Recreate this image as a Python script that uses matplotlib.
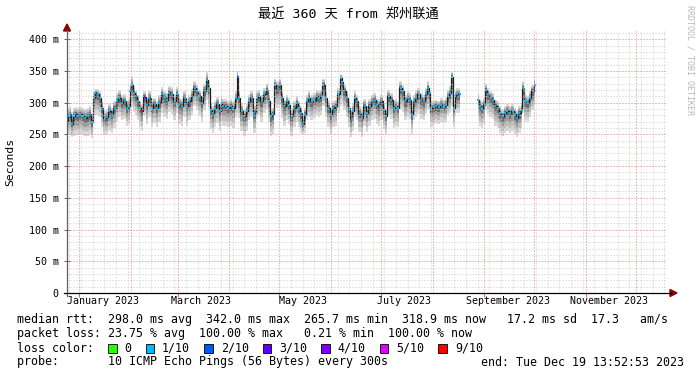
import datetime as dt
import numpy as np
import matplotlib
matplotlib.use("Agg")
import matplotlib.pyplot as plt
import matplotlib.dates as mdates
from matplotlib.patches import Rectangle, Polygon

MONO = ["DejaVu Sans Mono", "Noto Sans CJK SC"]
plt.rcParams["font.family"] = MONO

# --- data (days after start, ms) ---
start = dt.datetime(2022, 12, 24, 13, 52, 53)
end = dt.datetime(2023, 12, 19, 13, 52, 53)

days = [
    0, 1, 2, 3, 4, 5, 6.6, 8, 9.4, 11,
    12.6, 14, 15, 16, 17, 18.6, 20, 21, 22.6, 24,
    25.4, 27, 28.6, 30, 31.4, 33, 34.6, 36, 37, 38,
    39, 40, 41, 42.6, 44, 45, 46.6, 48, 49.4, 51,
    52.6, 54, 55.4, 57, 58.6, 60, 61.4, 63, 64.6, 66,
    67.4, 69, 70.6, 72, 73.4, 75, 76.6, 78, 79.4, 81,
    82.6, 84, 85, 86.4, 87.8, 88.8, 90.4, 91.8, 92.8, 93.8,
    95.2, 96.8, 98.4, 99.8, 101.2, 102.4, 103.2, 104.8, 106.4, 107.8,
    109.2, 110.8, 112.4, 113.8, 115.2, 116.8, 118.4, 119.8, 121.2, 122.4,
    123.8, 124.8, 126.4, 127.8, 129.2, 130.4, 131.8, 133.2, 134.8, 136.4,
    137.8, 139.2, 140.4, 141.2, 142.8, 143.8, 145.2, 146.8, 148.4, 149.8,
    151.2, 152.8, 153.8, 155.2, 156.8, 158.4, 159.8, 161.2, 162.8, 164.4,
    165.2, 166.4, 167.8, 169.2, 170.8, 171.8, 173.0, 174.2, 175.6, 177.0,
    178.6, 180.2, 181.6, 183.0, 184.6, 186.2, 187.6, 188.6, 190.2, 191.6,
    193.0, 194.6, 196.2, 197.6, 198.6, 200.2, 201.6, 203.0, 204.6, 205.6,
    207.0, 208.2, 209.6, 211.0, 212.6, 214.2, 215.6, 216.6, 217.6, 218.6,
    220.2, 221.6, 223.0, 224.6, 226.2, 227.6, 228.6, 229.6, 231.0, 232.2,
    233.0, 234.2, 235.6,
    241,
    246.6, 247.6, 249.0, 250.6, 251.6, 252.6, 254.2, 255.6, 257.0, 258.6,
    259.8, 261.4, 262.8, 264.2, 265.8, 267.4, 268.8, 270.2, 271.4, 272.8,
    273.8, 274.8, 275.8, 276.8, 277.8, 279.4, 280.8,
]

median = [
    271, 279, 282, 267, 279, 282, 279, 282, 279, 276,
    279, 282, 269, 308, 315, 313, 308, 292, 276, 277,
    287, 282, 292, 302, 308, 300, 302, 292, 295, 318,
    328, 315, 310, 302, 292, 287, 309, 297, 308, 292,
    298, 292, 300, 313, 308, 305, 315, 313, 302, 314,
    297, 295, 308, 295, 302, 310, 323, 318, 310, 300,
    318, 336, 323, 289, 283, 292, 298, 287, 300, 295,
    295, 292, 295, 292, 308, 341, 308, 287, 279, 287,
    302, 308, 284, 308, 310, 302, 313, 320, 302, 279,
    282, 328, 323, 328, 308, 295, 302, 297, 279, 292,
    300, 292, 284, 266, 282, 302, 308, 302, 305, 310,
    308, 310, 328, 308, 292, 282, 292, 295, 313, 339,
    333, 318, 308, 292, 276, 287, 308, 302, 284, 276,
    295, 284, 295, 302, 305, 297, 295, 302, 289, 279,
    310, 305, 292, 295, 292, 323, 318, 302, 308, 305,
    282, 302, 308, 313, 305, 302, 313, 323, 315, 292,
    293, 295, 293, 297, 295, 297, 310, 315, 341, 292,
    310, 313, 313,
    np.nan,
    305, 295, 292, 297, 320, 313, 308, 305, 295, 292,
    284, 279, 284, 287, 284, 287, 282, 276, 284, 289,
    323, 302, 302, 300, 308, 318, 328,
]

ping_lo = [
    249, 249, 250, 246, 248, 249, 249, 250, 249, 248,
    248, 250, 244, 279, 281, 281, 277, 262, 249, 250,
    256, 252, 260, 269, 277, 272, 274, 264, 266, 284,
    294, 286, 281, 272, 262, 256, 279, 266, 277, 262,
    268, 262, 270, 284, 278, 274, 286, 282, 272, 284,
    266, 264, 278, 264, 272, 280, 294, 288, 280, 270,
    288, 304, 292, 258, 252, 262, 268, 256, 270, 264,
    264, 262, 264, 260, 278, 282, 276, 256, 248, 256,
    272, 278, 252, 276, 280, 270, 284, 290, 270, 248,
    250, 296, 292, 296, 276, 264, 272, 266, 248, 262,
    270, 262, 252, 249, 252, 272, 278, 272, 276, 280,
    278, 280, 294, 278, 262, 250, 262, 264, 284, 294,
    300, 288, 278, 262, 246, 256, 278, 272, 254, 246,
    264, 254, 264, 272, 274, 266, 264, 272, 258, 250,
    280, 274, 260, 264, 262, 290, 286, 272, 278, 274,
    250, 272, 278, 282, 274, 272, 282, 290, 284, 262,
    266, 268, 266, 270, 268, 270, 280, 284, 294, 262,
    280, 284, 284,
    np.nan,
    276, 264, 260, 266, 288, 282, 277, 274, 264, 260,
    252, 248, 252, 256, 252, 256, 250, 246, 252, 258,
    284, 270, 272, 270, 278, 288, 298,
]

ping_hi = [
    290, 292, 294, 285, 292, 293, 292, 293, 292, 290,
    291, 294, 282, 318, 322, 321, 318, 302, 287, 288,
    298, 292, 302, 315, 320, 312, 313, 303, 306, 330,
    340, 326, 320, 312, 302, 298, 318, 307, 318, 302,
    308, 302, 312, 324, 318, 316, 326, 324, 312, 325,
    308, 306, 318, 305, 312, 321, 334, 328, 320, 310,
    330, 348, 334, 300, 294, 302, 309, 298, 311, 306,
    306, 303, 306, 303, 318, 350, 318, 298, 290, 298,
    312, 318, 295, 318, 320, 312, 323, 330, 312, 290,
    292, 338, 334, 338, 318, 305, 312, 307, 290, 302,
    310, 302, 294, 280, 292, 312, 318, 312, 315, 320,
    318, 320, 338, 318, 302, 292, 302, 305, 323, 345,
    343, 328, 318, 302, 288, 298, 318, 312, 295, 288,
    306, 295, 306, 312, 315, 307, 306, 312, 300, 290,
    320, 315, 302, 306, 302, 334, 328, 312, 318, 315,
    292, 312, 318, 323, 315, 312, 323, 334, 326, 302,
    303, 305, 303, 307, 305, 307, 320, 326, 348, 302,
    320, 323, 323,
    np.nan,
    316, 306, 302, 307, 330, 323, 318, 315, 305, 302,
    295, 290, 295, 298, 295, 298, 292, 288, 295, 300,
    334, 312, 312, 310, 318, 328, 336,
]

loss_names = ["0", "1/10", "2/10", "3/10", "4/10", "5/10", "9/10"]
loss_colors = ["#26ff00", "#00b8ff", "#0059ff", "#5e00ff", "#7e00ff", "#dd00ff", "#ff0000"]
odd_loss_days = [45, 46.6, 102.4]
odd_loss_level = ["9/10", "4/10", "2/10"]

title = "最近 360 天 from 郑州联通"
legend_rtt = ("median rtt:  298.0 ms avg  342.0 ms max  265.7 ms min"
              "  318.9 ms now   17.2 ms sd  17.3   am/s")
legend_loss = "packet loss: 23.75 % avg  100.00 % max   0.21 % min  100.00 % now"
probe_txt = "probe:       10 ICMP Echo Pings (56 Bytes) every 300s"
end_txt = "end: Tue Dec 19 13:52:53 2023"

# --- figure ---
W, H = 697, 375
fig = plt.figure(figsize=(W / 100, H / 100), dpi=100)
L, R, B, T = 67, 667, 293, 31
ax = fig.add_axes([L / W, 1 - B / H, (R - L) / W, (B - T) / H])

def fx(px):
    return px / W

def fy(py):
    return 1 - py / H

t0 = mdates.date2num(start)
t1 = mdates.date2num(end)
x = t0 + np.array(days, dtype=float)
med = np.array(median, dtype=float)
lo = np.array(ping_lo, dtype=float)
hi = np.array(ping_hi, dtype=float)

# split at the missing stretch so steps don't hang into the gap
gaps = np.where(np.isnan(med))[0]
bounds = [0] + [g for g in gaps] + [len(med)]
segs = []
for a, b in zip(bounds[:-1], bounds[1:]):
    a = a + 1 if np.isnan(med[a]) else a
    segs.append(slice(a, b))

# smoke: nested bands, darker towards the median
bands = [(1.0, "#d8d8d8"), (0.75, "#bdbdbd"), (0.5, "#9c9c9c"), (0.28, "#6e6e6e")]
for sl in segs:
    for frac, col in bands:
        ax.fill_between(x[sl], med[sl] - frac * (med[sl] - lo[sl]),
                        med[sl] + frac * (hi[sl] - med[sl]),
                        step="mid", color=col, lw=0, zorder=2)
    ax.plot(x[sl], med[sl], drawstyle="steps-mid", color="#202020", lw=0.9, zorder=3)

lvl = np.array(["1/10"] * len(days), dtype=object)
for d, l in zip(odd_loss_days, odd_loss_level):
    lvl[np.argmin(np.abs(np.array(days) - d))] = l
for name, col in zip(loss_names, loss_colors):
    m = lvl == name
    if m.any():
        ax.plot(x[m], med[m], ls="none", marker="s", ms=2.0, mew=0, color=col, zorder=4)

ax.set_xlim(t0, t1)
ax.set_ylim(0, 413)

# grid, drawn on top like rrdtool does
dots = (0, (1, 2))
weeks = mdates.WeekdayLocator(byweekday=mdates.MO).tick_values(start, end)
months = mdates.MonthLocator().tick_values(start, end)
for w in weeks:
    if t0 < w < t1 and not np.isclose(w, months, atol=0.5).any():
        ax.axvline(w, color="#cdcdcd", lw=0.72, ls=dots, zorder=5)
for v in range(10, 411, 10):
    if v % 50:
        ax.axhline(v, color="#cdcdcd", lw=0.72, ls=dots, zorder=5)
for mth in months:
    if t0 < mth < t1:
        ax.axvline(mth, color="#e47f7f", lw=0.72, ls=dots, zorder=6)
for v in range(50, 401, 50):
    ax.axhline(v, color="#e47f7f", lw=0.72, ls=dots, zorder=6)

for s in ax.spines.values():
    s.set_visible(False)

yt = list(range(0, 401, 50))
ax.set_yticks(yt)
ax.set_yticklabels(["0"] + [f"{v} m" for v in yt[1:]])
ax.tick_params(axis="y", direction="inout", length=4, width=0.7, color="#606060",
               pad=4, labelsize=7.2)

lab_months = [dt.datetime(2023, m, 1) for m in (1, 3, 5, 7, 9, 11)]
ax.set_xticks([mdates.date2num(d) for d in lab_months])
ax.set_xticklabels([""] * len(lab_months))
ax.set_xticks([mdates.date2num(d.replace(day=15)) for d in lab_months], minor=True)
ax.set_xticklabels([d.strftime("%B %Y") for d in lab_months], minor=True)
ax.tick_params(axis="x", which="major", direction="out", length=3, width=0.7, color="#e06060")
ax.tick_params(axis="x", which="minor", length=0, pad=2, labelsize=7.2)

# axis lines with arrows
fig.add_artist(plt.Line2D([fx(L), fx(L)], [fy(B + 3), fy(T - 1)], color="#606060", lw=0.9))
fig.add_artist(plt.Line2D([fx(L - 3), fx(R + 5)], [fy(B), fy(B)], color="#000000", lw=0.9))
fig.add_artist(Polygon([(fx(L), fy(24)), (fx(L - 3.5), fy(31)), (fx(L + 3.5), fy(31))],
                       closed=True, color="#8b0000", transform=fig.transFigure))
fig.add_artist(Polygon([(fx(R + 10), fy(B)), (fx(R + 3), fy(B - 3.5)), (fx(R + 3), fy(B + 3.5))],
                       closed=True, color="#8b0000", transform=fig.transFigure))

# texts
fig.text(fx(348), fy(14), title, ha="center", va="center", fontsize=9.5, family=MONO)
fig.text(fx(10), fy(162), "Seconds", rotation=90, ha="center", va="center", fontsize=8.2)
fig.text(fx(690), fy(5), "RRDTOOL / TOBI OETIKER", rotation=270, ha="center", va="top",
         fontsize=6, color="#b8b8b8")

cw = 7.01
x0 = 17
fig.text(fx(x0), fy(320), legend_rtt, va="center", fontsize=8.4)
fig.text(fx(x0), fy(334), legend_loss, va="center", fontsize=8.4)
fig.text(fx(x0), fy(348), "loss color:", va="center", fontsize=8.4)
bx = x0 + 13 * cw
for name, col in zip(loss_names, loss_colors):
    fig.add_artist(Rectangle((fx(bx), fy(352.5)), 8.5 / W, 8.5 / H, transform=fig.transFigure,
                             facecolor=col, edgecolor="#000000", lw=0.6))
    tx = bx + 16.5
    fig.text(fx(tx), fy(348), name, va="center", fontsize=8.4)
    bx = tx + len(name) * cw + 14
fig.text(fx(x0), fy(362), probe_txt, va="center", fontsize=8.4)
fig.text(fx(684), fy(362), end_txt, ha="right", va="center", fontsize=8.4)

fig.savefig("out.png", dpi=100, facecolor="white")
